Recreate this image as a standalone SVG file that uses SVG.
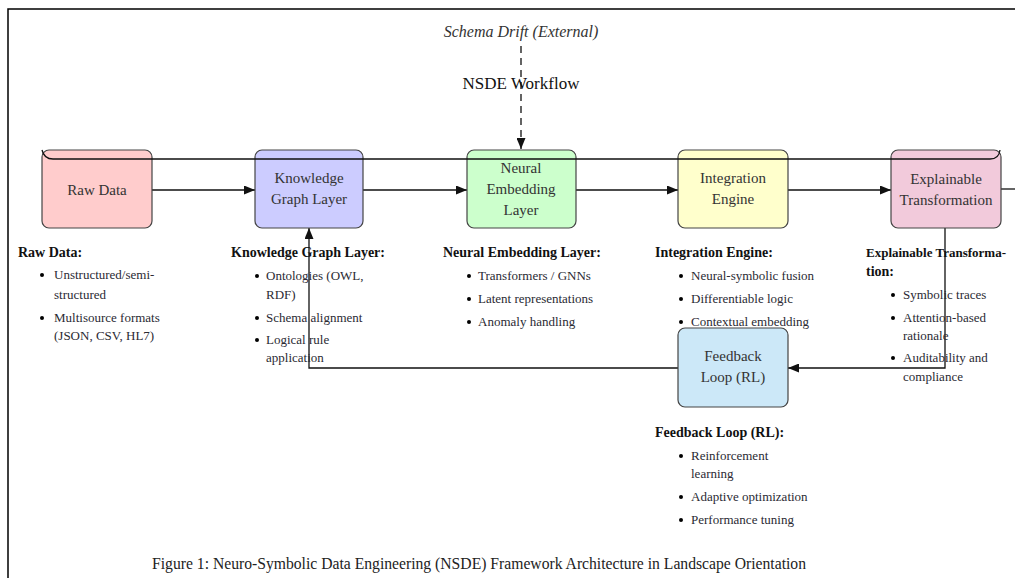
<svg xmlns="http://www.w3.org/2000/svg" width="1015" height="578" viewBox="0 0 1015 578">
<style>
  text { font-family: "Liberation Serif", "DejaVu Serif", serif; }
  .node rect { stroke: #444; stroke-width: 1.2; }
  .lbl { font-size: 15px; fill: #333; text-anchor: middle; }
  .hd { font-size: 14px; font-weight: bold; fill: #111; }
  .it { font-size: 13px; fill: #2a2a33; }
  .conn { stroke: #111; stroke-width: 1.3; fill: none; }
</style>
<defs>
  <marker id="ah" viewBox="0 0 11 9" refX="11" refY="4.5" markerWidth="11" markerHeight="9" markerUnits="userSpaceOnUse" orient="auto">
    <path d="M0,0 L11,4.5 L0,9 z" fill="#111"/>
  </marker>
</defs>
<rect width="1015" height="578" fill="#fff"/>
<!-- frame -->
<path d="M8,578 V9 H1015" fill="none" stroke="#000" stroke-width="1.5"/>

<text x="521" y="37" font-size="16" font-style="italic" fill="#333" text-anchor="middle">Schema Drift (External)</text>
<text x="521" y="89" font-size="17" fill="#111" text-anchor="middle">NSDE Workflow</text>

<g id="connectors">
  <path class="conn" d="M521,46 V149" stroke-dasharray="7,5" marker-end="url(#ah)"/>
  <path class="conn" d="M152,190 H255" marker-end="url(#ah)"/>
  <path class="conn" d="M363,190 H467" marker-end="url(#ah)"/>
  <path class="conn" d="M576,190 H678" marker-end="url(#ah)"/>
  <path class="conn" d="M788,190 H891" marker-end="url(#ah)"/>
  <path class="conn" d="M1001,189 H1015"/>
  <path class="conn" d="M945,228 V368 H788" marker-end="url(#ah)"/>
  <path class="conn" d="M678,368 H309 V228" marker-end="url(#ah)"/>
</g>

<g id="raw-data" class="node">
  <rect x="42" y="150" width="110" height="78" rx="7" fill="#ffcccc"/>
  <text class="lbl" x="97" y="195">Raw Data</text>
</g>
<g id="knowledge-graph" class="node">
  <rect x="255" y="150" width="108" height="78" rx="7" fill="#ccccff"/>
  <text class="lbl" x="309" y="183">Knowledge</text>
  <text class="lbl" x="309" y="204">Graph Layer</text>
</g>
<g id="neural-embedding" class="node">
  <rect x="467" y="150" width="109" height="78" rx="7" fill="#ccffcc"/>
  <text class="lbl" x="521" y="173">Neural</text>
  <text class="lbl" x="521" y="194">Embedding</text>
  <text class="lbl" x="521" y="215">Layer</text>
</g>
<g id="integration-engine" class="node">
  <rect x="678" y="150" width="110" height="78" rx="7" fill="#ffffcc"/>
  <text class="lbl" x="733" y="183">Integration</text>
  <text class="lbl" x="733" y="204">Engine</text>
</g>
<g id="explainable-transformation" class="node">
  <rect x="891" y="150" width="110" height="78" rx="7" fill="#f2cadb"/>
  <text class="lbl" x="946" y="184">Explainable</text>
  <text class="lbl" x="946" y="205">Transformation</text>
</g>
<g id="feedback-loop" class="node">
  <rect x="678" y="328" width="110" height="79" rx="7" fill="#cce8f8"/>
  <text class="lbl" x="733" y="361">Feedback</text>
  <text class="lbl" x="733" y="382">Loop (RL)</text>
</g>

<!-- workflow bounding curve, drawn over the nodes -->
<path d="M42,150 Q44,159 53,159 H990 Q999,159 1000,150" class="conn" stroke-width="1.2"/>

<g id="desc-raw-data">
  <text class="hd" x="18" y="257">Raw Data:</text>
  <circle cx="42" cy="275" r="2"/><text class="it" x="54" y="279">Unstructured/semi-</text>
  <text class="it" x="54" y="299">structured</text>
  <circle cx="42" cy="318" r="2"/><text class="it" x="54" y="322">Multisource formats</text>
  <text class="it" x="54" y="340">(JSON, CSV, HL7)</text>
</g>
<g id="desc-knowledge-graph">
  <text class="hd" x="231" y="257">Knowledge Graph Layer:</text>
  <circle cx="257" cy="276" r="2"/><text class="it" x="266" y="280">Ontologies (OWL,</text>
  <text class="it" x="266" y="299">RDF)</text>
  <circle cx="257" cy="318" r="2"/><text class="it" x="266" y="322">Schema alignment</text>
  <circle cx="257" cy="340" r="2"/><text class="it" x="266" y="344">Logical rule</text>
  <text class="it" x="266" y="362">application</text>
</g>
<g id="desc-neural-embedding">
  <text class="hd" x="443" y="257">Neural Embedding Layer:</text>
  <circle cx="469" cy="276" r="2"/><text class="it" x="478" y="280">Transformers / GNNs</text>
  <circle cx="469" cy="299" r="2"/><text class="it" x="478" y="303">Latent representations</text>
  <circle cx="469" cy="322" r="2"/><text class="it" x="478" y="326">Anomaly handling</text>
</g>
<g id="desc-integration-engine">
  <text class="hd" x="655" y="257">Integration Engine:</text>
  <circle cx="681" cy="276" r="2"/><text class="it" x="691" y="280">Neural-symbolic fusion</text>
  <circle cx="681" cy="299" r="2"/><text class="it" x="691" y="303">Differentiable logic</text>
  <circle cx="681" cy="322" r="2"/><text class="it" x="691" y="326">Contextual embedding</text>
</g>
<g id="desc-explainable-transformation">
  <text class="hd" x="866" y="257" style="font-size:13px">Explainable Transforma-</text>
  <text class="hd" x="866" y="276">tion:</text>
  <circle cx="893" cy="295" r="2"/><text class="it" x="903" y="299">Symbolic traces</text>
  <circle cx="893" cy="318" r="2"/><text class="it" x="903" y="322">Attention-based</text>
  <text class="it" x="903" y="340">rationale</text>
  <circle cx="893" cy="358" r="2"/><text class="it" x="903" y="362">Auditability and</text>
  <text class="it" x="903" y="381">compliance</text>
</g>
<g id="desc-feedback-loop">
  <text class="hd" x="655" y="437">Feedback Loop (RL):</text>
  <circle cx="681" cy="456" r="2"/><text class="it" x="691" y="460">Reinforcement</text>
  <text class="it" x="691" y="478">learning</text>
  <circle cx="681" cy="497" r="2"/><text class="it" x="691" y="501">Adaptive optimization</text>
  <circle cx="681" cy="520" r="2"/><text class="it" x="691" y="524">Performance tuning</text>
</g>

<text x="152" y="569" font-size="16" fill="#222" textLength="654" lengthAdjust="spacingAndGlyphs">Figure 1: Neuro-Symbolic Data Engineering (NSDE) Framework Architecture in Landscape Orientation</text>
</svg>
